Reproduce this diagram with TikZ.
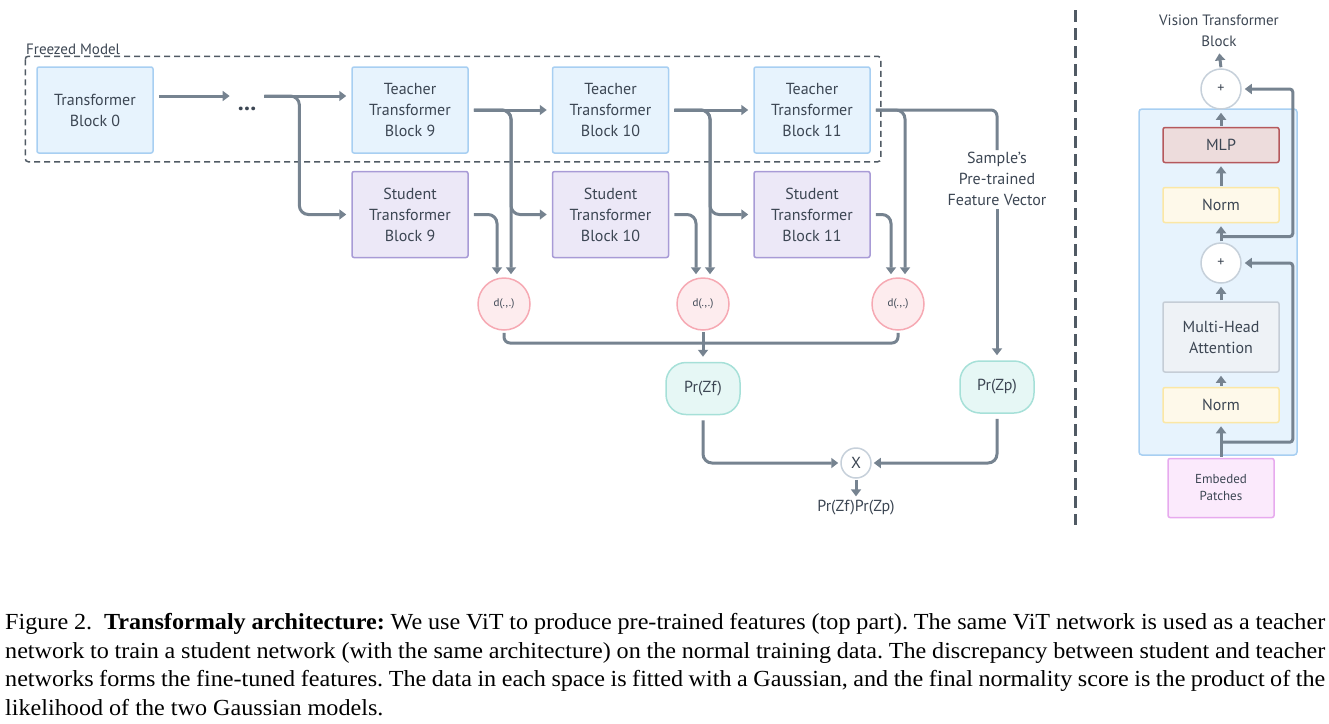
\documentclass[tikz,border=0pt]{standalone}
\usepackage{fontspec}
\setmainfont{Liberation Serif}
\setsansfont{PT Sans}
\newfontfamily\captionfont[FakeStretch=1.05]{Liberation Serif}
\usetikzlibrary{arrows.meta,positioning,calc}

\definecolor{inkc}{HTML}{3C4653}
\definecolor{linec}{HTML}{768390}
\definecolor{framec}{HTML}{505A64}
\definecolor{teacherfill}{HTML}{E7F3FD}
\definecolor{teacherdraw}{HTML}{A8CFF2}
\definecolor{studentfill}{HTML}{ECE8F7}
\definecolor{studentdraw}{HTML}{A89BD6}
\definecolor{dfill}{HTML}{FDECEE}
\definecolor{ddraw}{HTML}{F6A9B3}
\definecolor{prfill}{HTML}{E6F7F5}
\definecolor{prdraw}{HTML}{A6E0D8}
\definecolor{opdraw}{HTML}{C6D0DA}
\definecolor{mlpfill}{HTML}{EDDCDC}
\definecolor{mlpdraw}{HTML}{B5585C}
\definecolor{normfill}{HTML}{FEF9EA}
\definecolor{normdraw}{HTML}{FBE7A5}
\definecolor{mhafill}{HTML}{EEF2F6}
\definecolor{mhadraw}{HTML}{C5CDD6}
\definecolor{embfill}{HTML}{FBEAFC}
\definecolor{embdraw}{HTML}{E7AAEE}

\tikzset{
	txt/.style={text=inkc, font=\fontsize{16}{21}\selectfont\sffamily, align=center},
	block/.style={txt, draw, line width=1.5pt, rounded corners=2pt, minimum width=116pt, minimum height=86pt},
	teacher/.style={block, fill=teacherfill, draw=teacherdraw},
	student/.style={block, fill=studentfill, draw=studentdraw},
	dist/.style={circle, draw=ddraw, fill=dfill, line width=1.5pt, minimum size=52pt, inner sep=0pt, text=inkc, font=\fontsize{11}{13}\selectfont\sffamily},
	prob/.style={txt, draw=prdraw, fill=prfill, line width=1.5pt, rounded corners=20pt, minimum width=74pt, minimum height=52pt},
	op/.style={txt, circle, draw=opdraw, fill=white, line width=1.5pt, inner sep=0pt},
	layer/.style={txt, draw, line width=1.5pt, rounded corners=2pt, minimum width=116pt, minimum height=35pt},
	conn/.style={draw=linec, line width=3pt, -{Triangle[width=10pt,length=7pt]}, shorten <=5pt, shorten >=5pt, rounded corners=9pt},
	short/.style={conn, shorten <=1pt, shorten >=3pt, rounded corners=3pt},
	wire/.style={draw=linec, line width=3pt, rounded corners=6pt},
	frozen/.style={draw=framec, line width=1.5pt, dash pattern=on 6pt off 4pt, rounded corners=3pt}
}

% teacher and student of one stage both feed the distance node
\newcommand{\feeddistance}[3]{
	\draw[conn, shorten >=3pt] (#1.east) -| ([xshift=7pt]#3.north);
	\draw[conn, shorten >=3pt] (#2.east) -| ([xshift=-7pt]#3.north);
}
% teacher output goes on to the next teacher and the next student
\newcommand{\feednext}[4]{
	\draw[conn] (#1.east) -- (#2.west);
	\path ([xshift=7pt]#4.north) coordinate (#1-tap);
	\draw[conn] (#1.east) -| (#1-tap |- #3.west) -- (#3.west);
}

\begin{document}
\begin{tikzpicture}[x=1pt, y=-1pt]
	\useasboundingbox (0,0) rectangle (1329,723);

	% frozen teacher chain
	\node[teacher] (block0) at (95,110) {Transformer\\Block 0};
	\node[txt, font=\fontsize{24}{24}\selectfont\sffamily\bfseries, anchor=base, inner sep=3pt] (dots) at (247,110) {...};
	\node[teacher] (teacher9) at (410,110) {Teacher\\Transformer\\Block 9};
	\node[teacher, right=83pt of teacher9] (teacher10) {Teacher\\Transformer\\Block 10};
	\node[teacher, right=84pt of teacher10] (teacher11) {Teacher\\Transformer\\Block 11};

	\node[student, below=17pt of teacher9] (student9) {Student\\Transformer\\Block 9};
	\node[student, below=17pt of teacher10] (student10) {Student\\Transformer\\Block 10};
	\node[student, below=17pt of teacher11] (student11) {Student\\Transformer\\Block 11};

	\draw[frozen] ([xshift=-11pt,yshift=10pt]block0.north west) rectangle ([xshift=10pt,yshift=-8pt]teacher11.south east);
	\node[txt, font=\fontsize{15}{18}\selectfont\sffamily, anchor=south west, inner sep=0pt] (frozenlabel) at (26,55) {Freezed Model};

	% distances and likelihoods
	\node[dist] (d1) at (504,304) {d(.,.)};
	\node[dist] (d2) at (703,304) {d(.,.)};
	\node[dist] (d3) at (898,304) {d(.,.)};

	\node[prob, below=31pt of d2] (przf) {Pr(Zf)};
	\node[prob] (przp) at (997,387) {Pr(Zp)};
	\node[txt, inner sep=2pt] (sample) at (997,179) {Sample's\\Pre-trained\\Feature Vector};
	\node[op, minimum size=30pt] (times) at (856,463) {X};
	\node[txt, inner sep=1pt] (result) at (856,508) {Pr(Zf)Pr(Zp)};

	% connections
	\draw[conn] ([yshift=14pt]block0.east) -- ([yshift=14pt]block0.east -| dots.west);
	\coordinate (fork) at ([yshift=14pt]block0.east -| dots.east);
	\coordinate (drop) at ([xshift=40pt]fork);
	\draw[conn] (fork) -- (fork -| teacher9.west);
	\draw[conn] (fork) -| (drop |- student9.west) -- (student9.west);

	\feednext{teacher9}{teacher10}{student10}{d1}
	\feednext{teacher10}{teacher11}{student11}{d2}
	\feeddistance{teacher9}{student9}{d1}
	\feeddistance{teacher10}{student10}{d2}
	\feeddistance{teacher11}{student11}{d3}

	\draw[wire, shorten <=5pt] (teacher11.east) -| (sample.north);
	\draw[conn, shorten <=1pt] (sample.south) -- (przp.north);

	\coordinate (bar) at (0,343);
	\draw[wire, shorten <=2pt, shorten >=2pt] (d1.south) -- (d1.south |- bar) -- (d3.south |- bar) -- (d3.south);
	\draw[conn, shorten <=1pt] (d2.south) -- (przf.north);
	\draw[conn, shorten >=2pt] (przf.south) |- (times.west);
	\draw[conn, shorten >=2pt] (przp.south) |- (times.east);
	\draw[short] (times.south) -- (result.north);

	% separator
	\draw[draw=framec, line width=3pt, dash pattern=on 12pt off 6pt] (1075,10) -- (1075,525);

	% vision transformer block
	\node[draw=teacherdraw, fill=teacherfill, line width=1.5pt, rounded corners=3pt, minimum width=158pt, minimum height=346pt] (vitbox) at (1218,282) {};
	\node[txt, font=\fontsize{15}{21}\selectfont\sffamily] (vittitle) at (1219,31) {Vision Transformer\\Block};
	\node[op, minimum size=40pt, font=\fontsize{14}{16}\selectfont\sffamily] (plustop) at (1221,89) {+};
	\node[layer, fill=mlpfill, draw=mlpdraw] (mlp) at (1221,145) {MLP};
	\node[layer, fill=normfill, draw=normdraw] (norm1) at (1221,205) {Norm};
	\node[op, minimum size=40pt, font=\fontsize{14}{16}\selectfont\sffamily] (plus2) at (1221,263) {+};
	\node[layer, fill=mhafill, draw=mhadraw, minimum height=70pt] (mha) at (1221,337) {Multi-Head\\Attention};
	\node[layer, fill=normfill, draw=normdraw] (norm2) at (1221,405) {Norm};
	\node[layer, fill=embfill, draw=embdraw, minimum width=106pt, minimum height=59pt, font=\fontsize{13}{17}\selectfont\sffamily] (embed) at (1221,488) {Embeded\\Patches};

	\draw[short] (plustop.north) -- (vittitle.south);
	\draw[short] (mlp.north) -- (plustop.south);
	\draw[short] (norm1.north) -- (mlp.south);
	\draw[short] (plus2.north) -- (norm1.south);
	\draw[short] (mha.north) -- (plus2.south);
	\draw[short] (norm2.north) -- (mha.south);
	\draw[short] (embed.north) -- (norm2.south);

	\coordinate (rail) at ([xshift=-5pt]vitbox.east);
	\coordinate (skipA) at ($(plus2.north)!0.3!(norm1.south)$);
	\coordinate (skipB) at ($(embed.north)!0.45!(norm2.south)$);
	\draw[short, shorten <=0pt] (skipA) -| (rail |- plustop.east) -- (plustop.east);
	\draw[short, shorten <=0pt] (skipB) -| (rail |- plus2.east) -- (plus2.east);

	% caption
	\node[anchor=north west, inner sep=0pt, text width=1320pt, align=justify, font=\fontsize{23}{28.7}\selectfont\captionfont\frenchspacing] (caption) at (5,613) {Figure 2.\hspace{6pt} \textbf{Transformaly architecture:} We use ViT to produce pre-trained features (top part). The same ViT network is used as a teacher\linebreak network to train a student network (with the same architecture) on the normal training data. The discrepancy between student and teacher\linebreak networks forms the fine-tuned features. The data in each space is fitted with a Gaussian, and the final normality score is the product of the\linebreak likelihood of the two Gaussian models.};
\end{tikzpicture}
\end{document}
